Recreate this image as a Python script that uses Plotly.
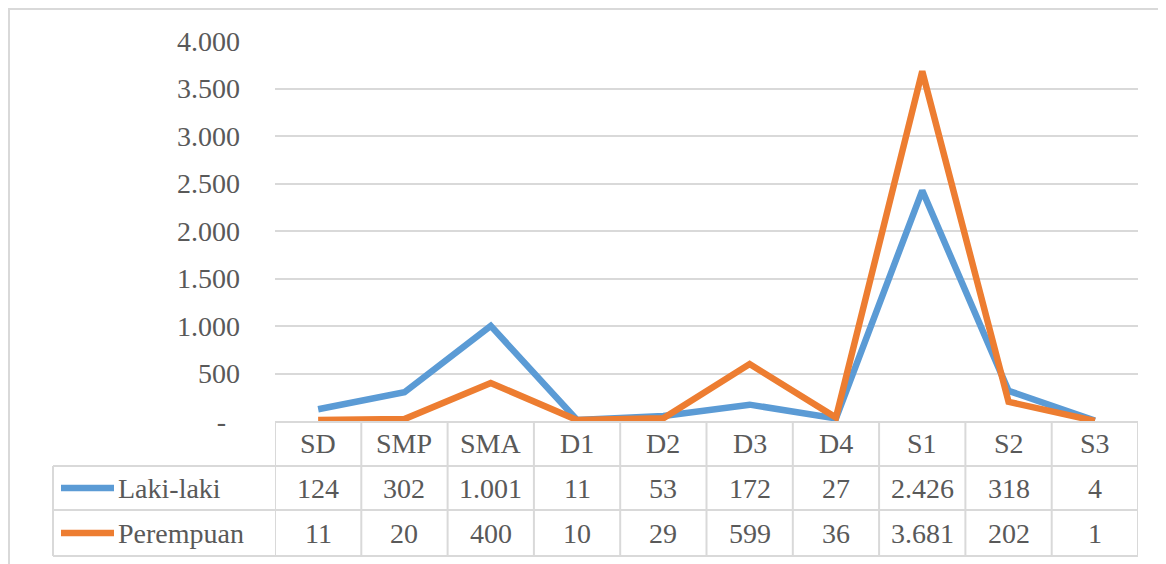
import plotly.graph_objects as go

categories = ["SD", "SMP", "SMA", "D1", "D2", "D3", "D4", "S1", "S2", "S3"]
laki_laki = [124, 302, 1001, 11, 53, 172, 27, 2426, 318, 4]
perempuan = [11, 20, 400, 10, 29, 599, 36, 3681, 202, 1]
series_names = ["Laki-laki", "Perempuan"]
series_colors = ["#5B9BD5", "#ED7D31"]
y_ticks = [0, 500, 1000, 1500, 2000, 2500, 3000, 3500, 4000]

# page body has an 8px margin, so the figure is drawn 8px smaller and everything
# below is given in page pixels then shifted
OFF = 8
W, H = 1166 - OFF, 564 - OFF
L, R, T, B = 275 - OFF, 28, 41 - OFF, 143
FONT = "Liberation Serif"
FS = 28
TXT = "#595959"
GRID = "#D9D9D9"


def fmt(v):
    # Indonesian thousands separator, accounting style dash for zero
    return "-\u00a0\u00a0" if v == 0 else f"{v:,}".replace(",", ".")


def py(p):
    # page pixel row -> paper y
    return (H - B - (p - OFF)) / (H - T - B)


def px(p):
    # page pixel column -> paper x
    return ((p - OFF) - L) / (W - L - R)


fig = go.Figure()
for name, vals, color in zip(series_names, [laki_laki, perempuan], series_colors):
    fig.add_trace(go.Scatter(x=categories, y=vals, name=name, mode="lines",
                             line=dict(color=color, width=6.5), showlegend=False))

# data table below the plot
row_edges = [421, 466, 510, 556]
n = len(categories)
shapes = []
for i in range(n + 1):
    shapes.append(dict(type="line", xref="x", yref="paper", x0=i - 0.5, x1=i - 0.5,
                       y0=py(row_edges[0]), y1=py(row_edges[-1]), line=dict(color=GRID, width=2)))
shapes.append(dict(type="line", xref="paper", yref="paper", x0=px(53), x1=px(53),
                   y0=py(row_edges[1]), y1=py(row_edges[-1]), line=dict(color=GRID, width=2)))
for r in row_edges[1:]:
    shapes.append(dict(type="line", xref="paper", yref="paper", x0=px(53), x1=1,
                       y0=py(r), y1=py(r), line=dict(color=GRID, width=2)))
# outer chart border
shapes.append(dict(type="line", xref="paper", yref="paper", x0=px(8), x1=px(1170),
                   y0=py(9), y1=py(9), line=dict(color=GRID, width=2)))
shapes.append(dict(type="line", xref="paper", yref="paper", x0=px(9), x1=px(9),
                   y0=py(9), y1=py(570), line=dict(color=GRID, width=2)))

annotations = []
for i, c in enumerate(categories):
    annotations.append(dict(x=i, y=py((row_edges[0] + row_edges[1]) / 2), xref="x", yref="paper",
                            xanchor="center", yanchor="middle", text=c, showarrow=False,
                            font=dict(family=FONT, size=FS, color=TXT)))
for k, (name, vals, color) in enumerate(zip(series_names, [laki_laki, perempuan], series_colors)):
    yc = py((row_edges[k + 1] + row_edges[k + 2]) / 2)
    shapes.append(dict(type="line", xref="paper", yref="paper", x0=px(61), x1=px(114),
                       y0=yc, y1=yc, line=dict(color=color, width=6.5)))
    annotations.append(dict(x=px(116), y=yc, xref="paper", yref="paper", xanchor="left",
                            yanchor="middle", text=name, showarrow=False,
                            font=dict(family=FONT, size=FS, color=TXT)))
    for i, v in enumerate(vals):
        annotations.append(dict(x=i, y=yc, xref="x", yref="paper", xanchor="center",
                                yanchor="middle", text=fmt(v), showarrow=False,
                                font=dict(family=FONT, size=FS, color=TXT)))

fig.update_layout(
    width=W, height=H,
    margin=dict(l=L, r=R, t=T, b=B),
    paper_bgcolor="white", plot_bgcolor="white",
    font=dict(family=FONT, size=FS, color=TXT),
    xaxis=dict(range=[-0.5, n - 0.5], showticklabels=False, showgrid=False,
               showline=True, linecolor=GRID, linewidth=2, ticks=""),
    yaxis=dict(range=[0, 4000], tickvals=y_ticks, ticktext=[fmt(v) for v in y_ticks],
               showgrid=True, gridcolor=GRID, gridwidth=2, zeroline=False, ticks="",
               ticklabelstandoff=34),
    shapes=shapes, annotations=annotations,
)

fig.write_html("out.html")
